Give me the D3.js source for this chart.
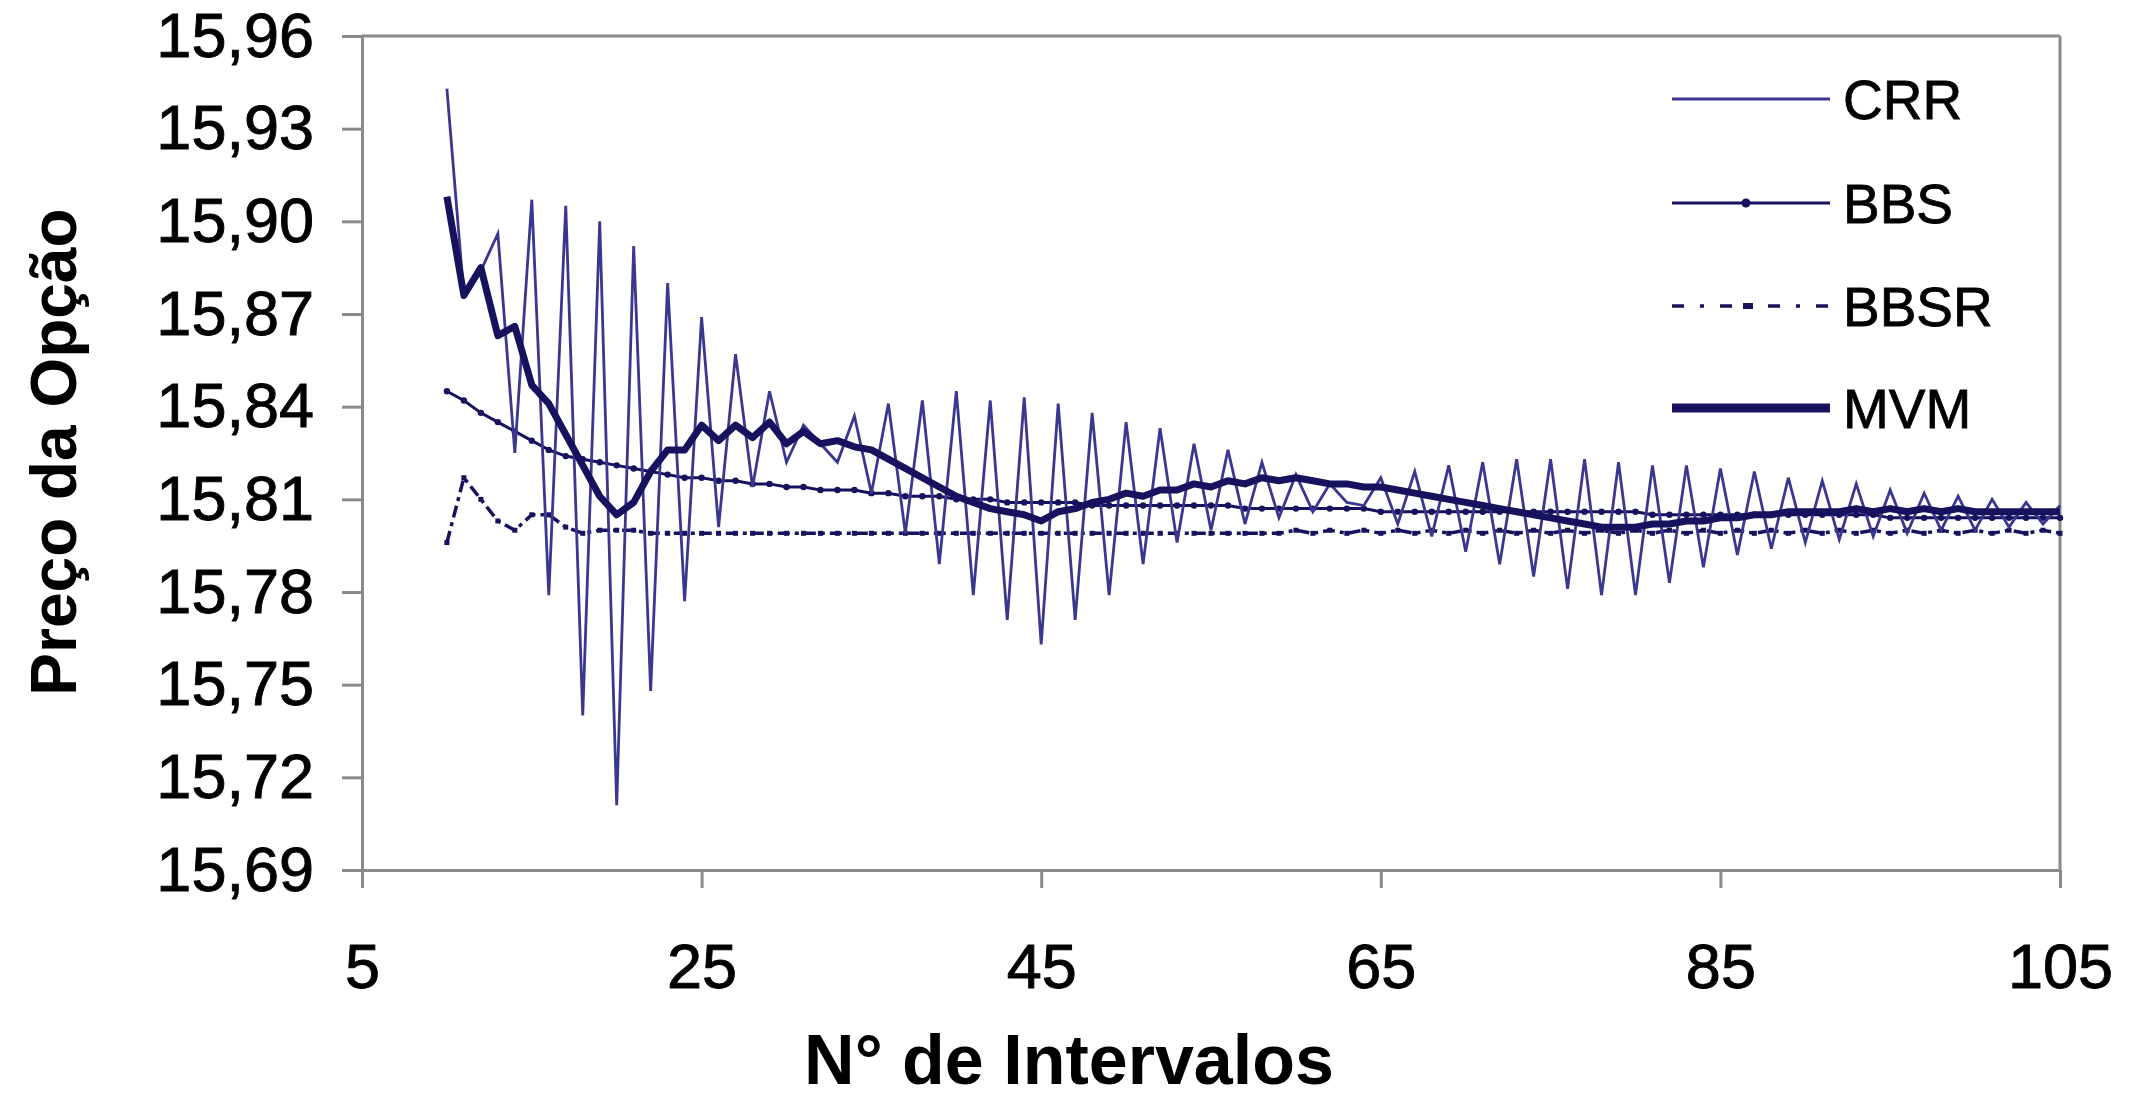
<!DOCTYPE html>
<html>
<head>
<meta charset="utf-8">
<script src="https://cdn.jsdelivr.net/npm/d3@7"></script>
<style>
  html, body { margin: 0; padding: 0; background: #ffffff; }
  svg { display: block; }
  text { font-family: "Liberation Sans", Arial, sans-serif; fill: #000; }
</style>
</head>
<body>
<svg id="chart" width="2129" height="1099"></svg>
<script>
// ---------- data ----------
const intervals = [10,11,12,13,14,15,16,17,18,19,20,21,22,23,24,25,26,27,28,29,30,31,32,33,34,35,36,37,38,39,40,41,42,43,44,45,46,47,48,49,50,51,52,53,54,55,56,57,58,59,60,61,62,63,64,65,66,67,68,69,70,71,72,73,74,75,76,77,78,79,80,81,82,83,84,85,86,87,88,89,90,91,92,93,94,95,96,97,98,99,100,101,102,103,104,105];

const crr = [15.943,15.876,15.884,15.896,15.825,15.907,15.779,15.905,15.740,15.900,
             15.711,15.892,15.748,15.880,15.777,15.869,15.801,15.857,15.814,15.845,
             15.822,15.834,15.828,15.822,15.837,15.812,15.841,15.799,15.842,15.789,
             15.845,15.779,15.842,15.771,15.843,15.763,15.841,15.771,15.838,15.779,
             15.835,15.789,15.833,15.796,15.828,15.800,15.826,15.802,15.822,15.804,
             15.818,15.806,15.815,15.809,15.808,15.817,15.802,15.819,15.798,15.821,
             15.793,15.822,15.789,15.823,15.785,15.823,15.781,15.823,15.779,15.822,
             15.779,15.821,15.783,15.821,15.788,15.820,15.792,15.819,15.794,15.817,
             15.796,15.816,15.797,15.815,15.798,15.813,15.799,15.812,15.800,15.811,
             15.800,15.810,15.801,15.809,15.802,15.808];

const bbs = [15.845,15.842,15.838,15.835,15.832,15.829,15.826,15.824,15.823,15.822,
             15.821,15.820,15.819,15.818,15.817,15.817,15.816,15.816,15.815,15.815,
             15.814,15.814,15.813,15.813,15.813,15.812,15.812,15.811,15.811,15.811,
             15.810,15.810,15.810,15.809,15.809,15.809,15.809,15.809,15.808,15.808,
             15.808,15.808,15.808,15.808,15.808,15.808,15.808,15.807,15.807,15.807,
             15.807,15.807,15.807,15.807,15.807,15.806,15.806,15.806,15.806,15.806,
             15.806,15.806,15.806,15.806,15.806,15.806,15.806,15.806,15.806,15.806,
             15.806,15.805,15.805,15.805,15.805,15.805,15.805,15.805,15.805,15.805,
             15.805,15.805,15.805,15.805,15.805,15.804,15.804,15.804,15.804,15.804,
             15.804,15.804,15.804,15.804,15.804,15.804];

const bbsr = [15.796,15.817,15.810,15.803,15.800,15.805,15.805,15.801,15.799,15.800,
              15.800,15.800,15.799,15.799,15.799,15.799,15.799,15.799,15.799,15.799,
              15.799,15.799,15.799,15.799,15.799,15.799,15.799,15.799,15.799,15.799,
              15.799,15.799,15.799,15.799,15.799,15.799,15.799,15.799,15.799,15.799,
              15.799,15.799,15.799,15.799,15.799,15.799,15.799,15.799,15.799,15.799,
              15.800,15.799,15.800,15.799,15.800,15.799,15.800,15.799,15.800,15.799,
              15.800,15.799,15.800,15.799,15.800,15.799,15.800,15.799,15.800,15.799,
              15.800,15.799,15.800,15.799,15.800,15.799,15.800,15.799,15.800,15.799,
              15.800,15.799,15.800,15.799,15.800,15.799,15.800,15.799,15.800,15.799,
              15.800,15.799,15.800,15.799,15.800,15.799];

const mvm = [15.908,15.876,15.885,15.863,15.866,15.847,15.841,15.831,15.821,15.811,
             15.805,15.809,15.819,15.826,15.826,15.834,15.829,15.834,15.830,15.835,
             15.828,15.832,15.828,15.829,15.827,15.826,15.823,15.820,15.817,15.814,
             15.811,15.809,15.807,15.806,15.805,15.803,15.806,15.807,15.809,15.810,
             15.812,15.811,15.813,15.813,15.815,15.814,15.816,15.815,15.817,15.816,
             15.817,15.816,15.815,15.815,15.814,15.814,15.813,15.812,15.811,15.810,
             15.809,15.808,15.807,15.806,15.805,15.804,15.803,15.802,15.801,15.801,
             15.801,15.802,15.802,15.803,15.803,15.804,15.804,15.805,15.805,15.806,
             15.806,15.806,15.806,15.807,15.806,15.807,15.806,15.807,15.806,15.807,
             15.806,15.806,15.806,15.806,15.806,15.806];

const xTicks = [5, 25, 45, 65, 85, 105];
const yTicks = [15.69, 15.72, 15.75, 15.78, 15.81, 15.84, 15.87, 15.90, 15.93, 15.96];
const seriesNames = ["CRR", "BBS", "BBSR", "MVM"];

// ---------- layout ----------
const svg = d3.select("#chart");
const plotLeft = 362, plotRight = 2060, plotTop = 36, plotBottom = 870;
const x = d3.scaleLinear().domain([5, 105]).range([plotLeft, plotRight]);
const y = d3.scaleLinear().domain([15.69, 15.96]).range([plotBottom, plotTop]);

const navy = "#16125e";
const crrColor = "#3b3790";
const axisGray = "#8a8a8a";

// plot frame (top and right border)
svg.append("line").attr("x1", x(5)).attr("x2", x(105)).attr("y1", y(15.96)).attr("y2", y(15.96))
  .attr("stroke", axisGray).attr("stroke-width", 3);
svg.append("line").attr("x1", x(105)).attr("x2", x(105)).attr("y1", y(15.96)).attr("y2", y(15.69))
  .attr("stroke", axisGray).attr("stroke-width", 3);

// axes
const fmt = d => d.toFixed(2).replace(".", ",");
const yAxis = svg.append("g").attr("transform", `translate(${plotLeft},0)`)
  .call(d3.axisLeft(y).tickValues(yTicks).tickSize(20).tickSizeOuter(0).tickFormat(fmt).tickPadding(28));
const xAxis = svg.append("g").attr("transform", `translate(0,${plotBottom})`)
  .call(d3.axisBottom(x).tickValues(xTicks).tickSize(18).tickSizeOuter(0).tickPadding(55));
[yAxis, xAxis].forEach(g => {
  g.select(".domain").attr("stroke", axisGray).attr("stroke-width", 3);
  g.selectAll(".tick line").attr("stroke", axisGray).attr("stroke-width", 3);
  g.selectAll(".tick text").attr("font-size", 63).attr("fill", "#000")
    .attr("stroke", "#000").attr("stroke-width", 0.9)
    .attr("font-family", "'Liberation Sans', Arial, sans-serif");
});

// axis titles
svg.append("text")
  .attr("transform", `translate(${54},${452}) rotate(-90)`)
  .attr("text-anchor", "middle").attr("dy", "0.35em")
  .attr("font-size", 64).attr("font-weight", "bold")
  .text("Preço da Opção");
svg.append("text")
  .attr("x", 1069).attr("y", 1084)
  .attr("text-anchor", "middle")
  .attr("font-size", 70).attr("font-weight", "bold")
  .text("N° de Intervalos");

// ---------- series ----------
const mk = vals => intervals.map((n, i) => ({ n, v: vals[i] }));
const line = d3.line().x(d => x(d.n)).y(d => y(d.v));

const plot = svg.append("g");

// BBSR (lower, dash-dot with small markers)
plot.append("path").datum(mk(bbsr)).attr("d", line)
  .attr("fill", "none").attr("stroke", navy).attr("stroke-width", 3.5)
  .attr("stroke-dasharray", "12,5,4,5");
plot.append("g").selectAll("rect").data(mk(bbsr)).join("rect")
  .attr("x", d => x(d.n) - 2.5).attr("y", d => y(d.v) - 2.5)
  .attr("width", 5).attr("height", 5).attr("fill", navy);

// BBS (middle, solid thin with dot markers)
plot.append("path").datum(mk(bbs)).attr("d", line)
  .attr("fill", "none").attr("stroke", navy).attr("stroke-width", 3);
plot.append("g").selectAll("circle").data(mk(bbs)).join("circle")
  .attr("cx", d => x(d.n)).attr("cy", d => y(d.v)).attr("r", 3.2).attr("fill", navy);

// CRR (thin oscillating)
plot.append("path").datum(mk(crr)).attr("d", line)
  .attr("fill", "none").attr("stroke", crrColor).attr("stroke-width", 2.8)
  .attr("stroke-linejoin", "miter");

// MVM (thick)
plot.append("path").datum(mk(mvm)).attr("d", line)
  .attr("fill", "none").attr("stroke", navy).attr("stroke-width", 7)
  .attr("stroke-linejoin", "round");

// ---------- legend ----------
const legY = [99, 203, 306, 408];
const lx1 = 1672, lx2 = 1830;
const leg = svg.append("g");
seriesNames.forEach((name, i) => {
  const yy = legY[i];
  const ln = leg.append("line").attr("x1", lx1).attr("x2", lx2).attr("y1", yy).attr("y2", yy)
    .attr("stroke", i === 0 ? crrColor : navy);
  if (name === "CRR") ln.attr("stroke-width", 2.8);
  if (name === "BBS") {
    ln.attr("stroke-width", 3);
    leg.append("circle").attr("cx", (lx1 + lx2) / 2 - 5).attr("cy", yy).attr("r", 4.5).attr("fill", navy);
  }
  if (name === "BBSR") {
    ln.attr("stroke-width", 3.5).attr("stroke-dasharray", "12,16,4,16");
    leg.append("rect").attr("x", (lx1 + lx2) / 2 - 8).attr("y", yy - 3).attr("width", 10).attr("height", 6).attr("fill", navy);
  }
  if (name === "MVM") ln.attr("stroke-width", 9);
  leg.append("text").attr("x", 1843).attr("y", yy).attr("dy", "0.36em")
    .attr("font-size", 55).attr("stroke", "#000").attr("stroke-width", 0.8).text(name);
});
</script>
</body>
</html>
